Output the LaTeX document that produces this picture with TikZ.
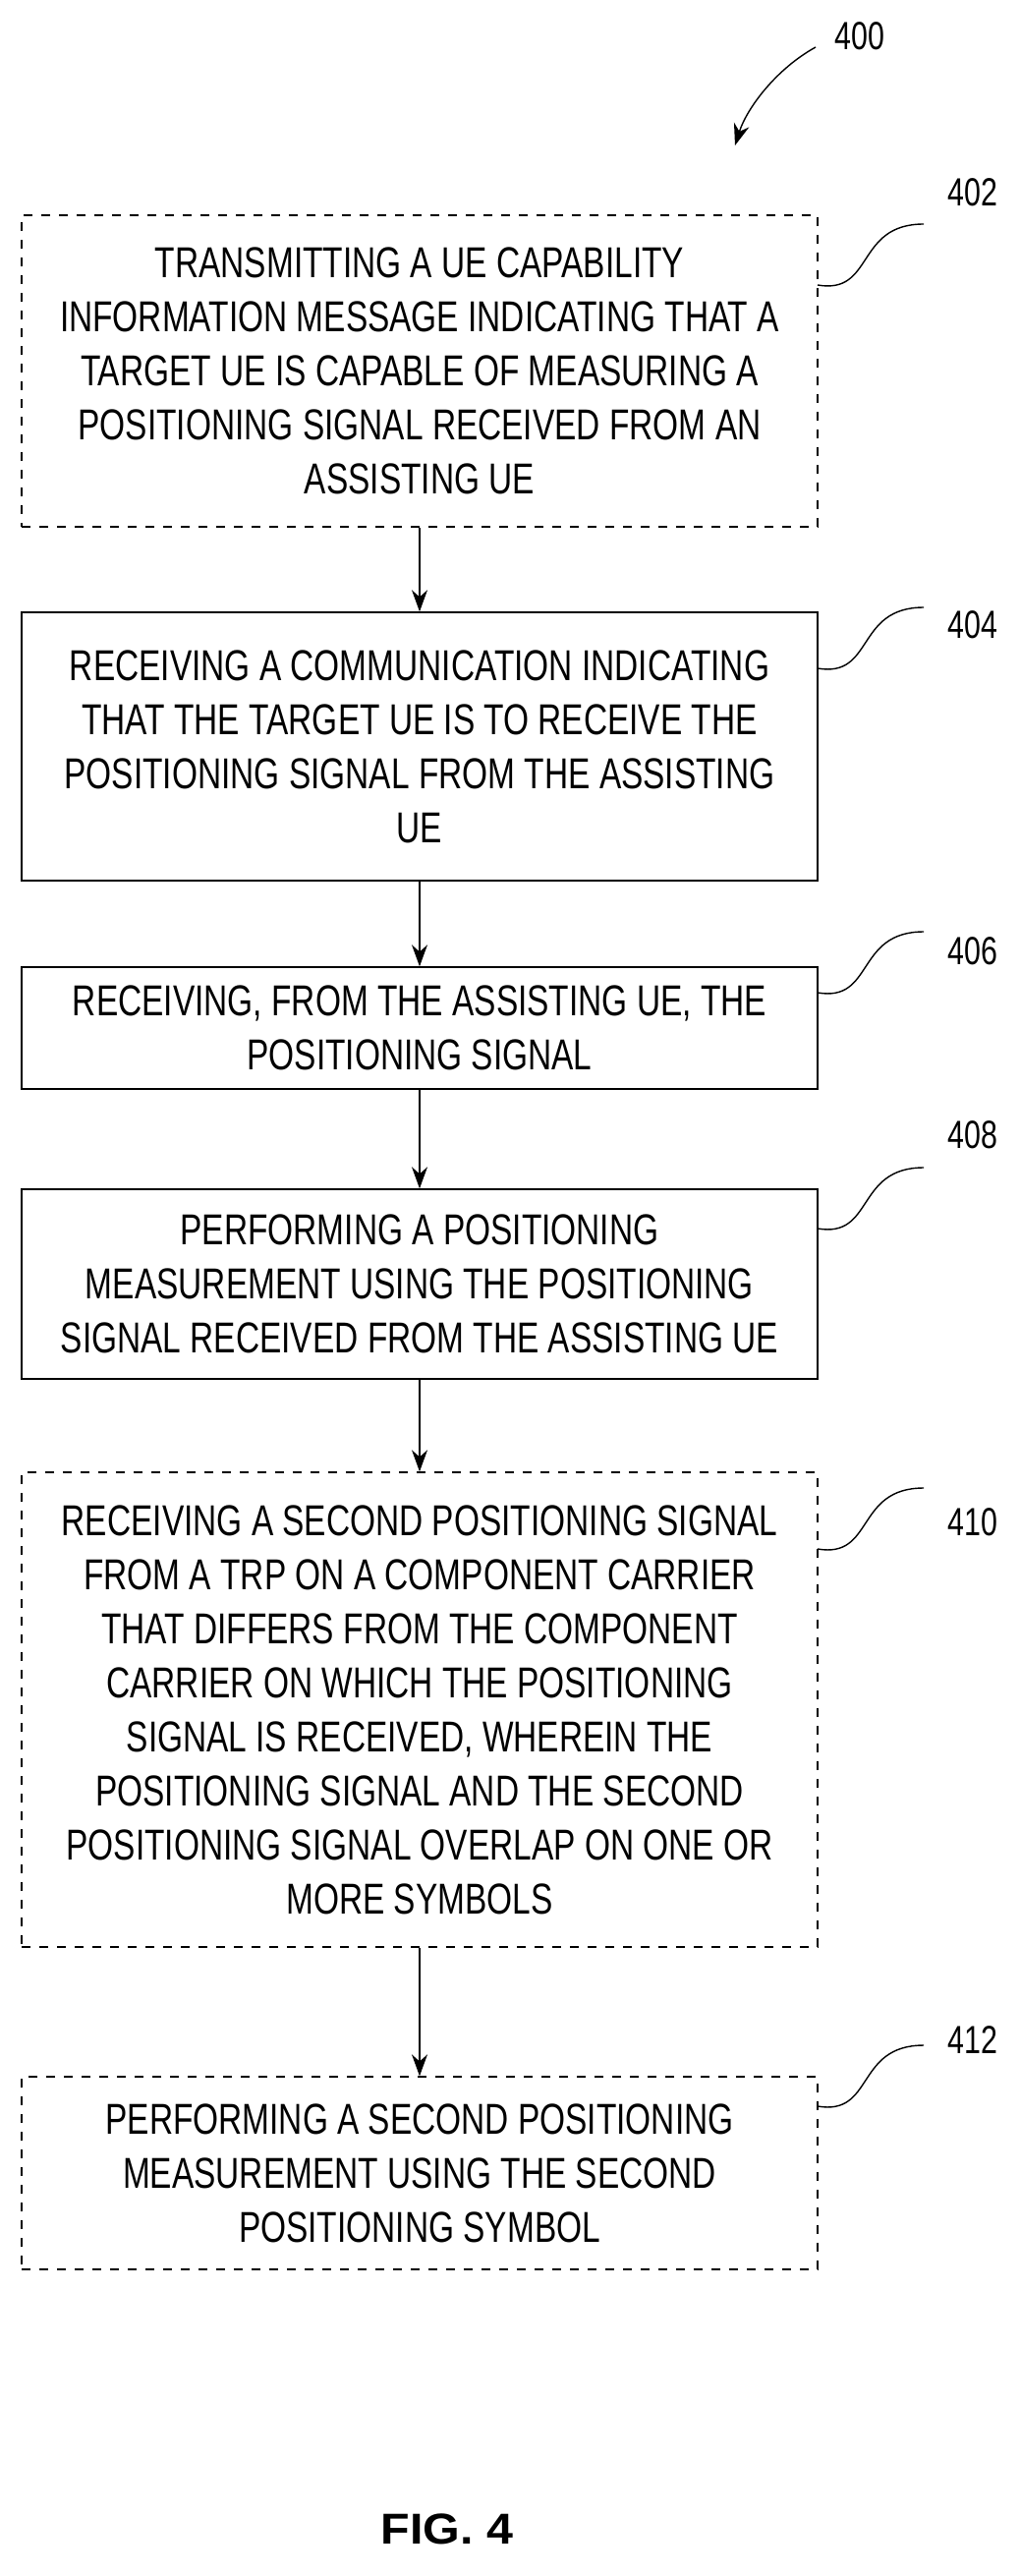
\documentclass[tikz,border=0pt]{standalone}
\usepackage{fontspec}
\setmainfont{Liberation Sans}[FakeStretch=0.76]
\newfontfamily\figfont{Liberation Sans}[FakeStretch=1.1]
\usetikzlibrary{arrows.meta}
\begin{document}
\begin{tikzpicture}[x=1pt,y=-1pt,
  box/.style={draw,line width=1.4pt,minimum width=810pt,align=center,inner sep=0pt,
    font=\fontsize{44}{55}\selectfont},
  dbox/.style={box,dash pattern=on 9pt off 9pt},
  arr/.style={line width=1.4pt,-{Stealth[length=22pt,width=16pt]}},
  sq/.style={line width=1.4pt},
  lab/.style={font=\fontsize{40}{40}\selectfont}]
\useasboundingbox (0,0) rectangle (1038,2621);
\node[lab] (l400) at (875,37) {400};
\coordinate (a400s) at (830,48);
\coordinate (a400e) at (748,148);
\draw[arr] (a400s) .. controls (790,70) and (760,110) .. (a400e);

\node[dbox,minimum height=317pt] (b402) at (427,377.5) {TRANSMITTING A UE CAPABILITY\\INFORMATION MESSAGE INDICATING THAT A\\TARGET UE IS CAPABLE OF MEASURING A\\POSITIONING SIGNAL RECEIVED FROM AN\\ASSISTING UE};
\node[box,minimum height=273pt] (b404) at (427,759.5) {RECEIVING A COMMUNICATION INDICATING\\THAT THE TARGET UE IS TO RECEIVE THE\\POSITIONING SIGNAL FROM THE ASSISTING\\UE};
\node[box,minimum height=124pt] (b406) at (427,1046) {RECEIVING, FROM THE ASSISTING UE, THE\\POSITIONING SIGNAL};
\node[box,minimum height=193pt] (b408) at (427,1306.5) {PERFORMING A POSITIONING\\MEASUREMENT USING THE POSITIONING\\SIGNAL RECEIVED FROM THE ASSISTING UE};
\node[dbox,minimum height=483pt] (b410) at (427,1739.5) {RECEIVING A SECOND POSITIONING SIGNAL\\FROM A TRP ON A COMPONENT CARRIER\\THAT DIFFERS FROM THE COMPONENT\\CARRIER ON WHICH THE POSITIONING\\SIGNAL IS RECEIVED, WHEREIN THE\\POSITIONING SIGNAL AND THE SECOND\\POSITIONING SIGNAL OVERLAP ON ONE OR\\MORE SYMBOLS};
\node[dbox,minimum height=196pt] (b412) at (427,2211) {PERFORMING A SECOND POSITIONING\\MEASUREMENT USING THE SECOND\\POSITIONING SYMBOL};

\foreach \a/\b in {b402/b404,b404/b406,b406/b408,b408/b410,b410/b412}
  \draw[arr] (\a.south) -- (\b.north);

\foreach \n/\y/\ly in {402/290/196,404/680/636,406/1010/968,408/1250/1155,410/1576/1549,412/2143/2076}{
  \node[lab] (l\n) at (990,\ly) {\n};
  \coordinate (s\n) at (832,\y);
  \coordinate (e\n) at (940,\y-62);
  \draw[sq] (s\n) .. controls (890,\y+10) and (870,\y-62) .. (e\n);
}
\node[font=\figfont\bfseries\fontsize{44}{44}\selectfont] (fig) at (455,2573) {FIG. 4};
\end{tikzpicture}
\end{document}
